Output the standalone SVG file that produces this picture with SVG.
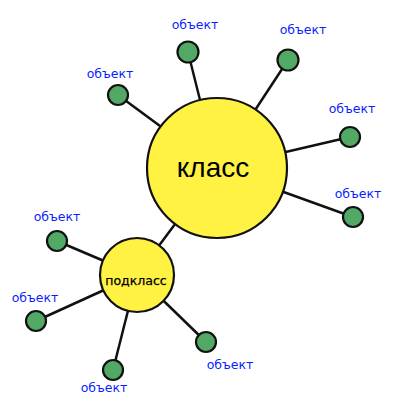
<svg xmlns="http://www.w3.org/2000/svg" width="400" height="402" viewBox="0 0 400 402">
<style>
.big{fill:#fff243;stroke:#111;stroke-width:2.2}
.obj{fill:#52a865;stroke:#111;stroke-width:2.2}
.lbl{font-family:"DejaVu Sans",Verdana,sans-serif;font-size:12.5px;fill:#0a1eff;text-anchor:middle}
.conn line{stroke:#111;stroke-width:2.5}
</style>
<rect width="400" height="402" fill="#fff"/>
<g class="conn">
<line x1="118" y1="95" x2="217" y2="168"/>
<line x1="188" y1="52" x2="217" y2="168"/>
<line x1="288" y1="60" x2="217" y2="168"/>
<line x1="350" y1="137" x2="217" y2="168"/>
<line x1="353" y1="217" x2="217" y2="168"/>
<line x1="137" y1="275" x2="217" y2="168"/>
<line x1="57" y1="241" x2="137" y2="275"/>
<line x1="36" y1="321" x2="137" y2="275"/>
<line x1="113" y1="370" x2="137" y2="275"/>
<line x1="206" y1="342" x2="137" y2="275"/>
</g>
<g id="klass"><circle class="big" cx="217" cy="168" r="70"/><text x="213" y="177" font-family="Liberation Sans,Arial,sans-serif" font-size="28" text-anchor="middle" fill="#000">класс</text></g>
<g id="podklass"><circle class="big" cx="137" cy="275" r="37"/><text x="136" y="285" font-family="DejaVu Sans,Verdana,sans-serif" font-size="12.5" text-anchor="middle" fill="#000" stroke="#000" stroke-width="0.25">подкласс</text></g>
<g id="o1"><circle class="obj" cx="118" cy="95" r="10"/><text class="lbl" x="110" y="78">объект</text></g>
<g id="o2"><circle class="obj" cx="188" cy="52" r="10.5"/><text class="lbl" x="195" y="29">объект</text></g>
<g id="o3"><circle class="obj" cx="288" cy="60" r="10.5"/><text class="lbl" x="303" y="34">объект</text></g>
<g id="o4"><circle class="obj" cx="350" cy="137" r="10"/><text class="lbl" x="352" y="113">объект</text></g>
<g id="o5"><circle class="obj" cx="353" cy="217" r="10"/><text class="lbl" x="358" y="198">объект</text></g>
<g id="o6"><circle class="obj" cx="57" cy="241" r="10"/><text class="lbl" x="57" y="221">объект</text></g>
<g id="o7"><circle class="obj" cx="36" cy="321" r="10"/><text class="lbl" x="35" y="302">объект</text></g>
<g id="o8"><circle class="obj" cx="113" cy="370" r="10"/><text class="lbl" x="104" y="392">объект</text></g>
<g id="o9"><circle class="obj" cx="206" cy="342" r="10"/><text class="lbl" x="230" y="369">объект</text></g>
</svg>
